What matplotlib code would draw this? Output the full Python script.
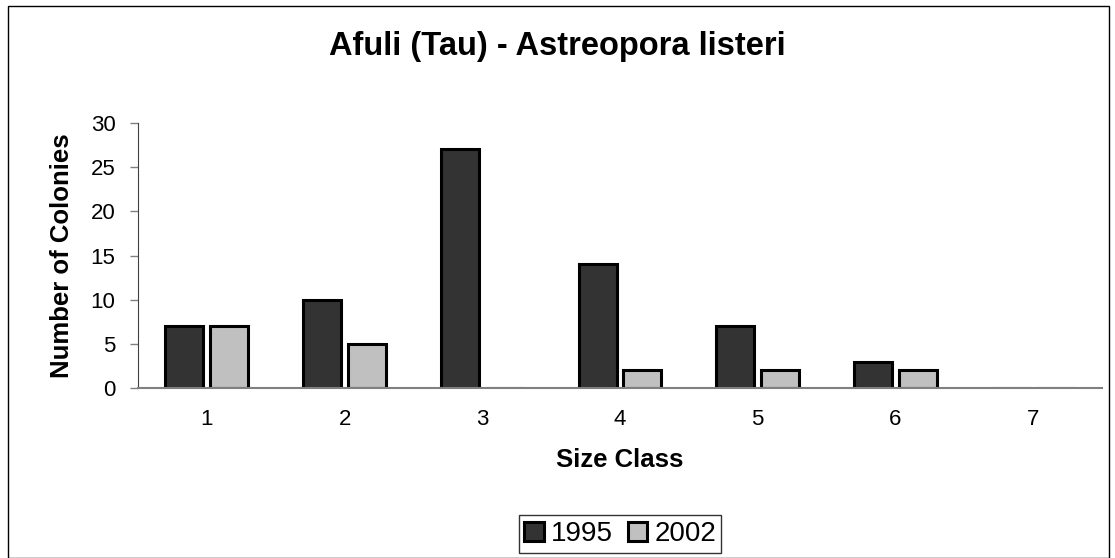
import matplotlib
matplotlib.use("Agg")
import matplotlib.pyplot as plt
from matplotlib.patches import Rectangle
import numpy as np

plt.rcParams['font.family'] = ['Liberation Sans', 'DejaVu Sans']

size_classes = ["1", "2", "3", "4", "5", "6", "7"]
colonies_1995 = [7, 10, 27, 14, 7, 3, 0]
colonies_2002 = [7, 5, 0, 2, 2, 2, 0]
series_labels = ["1995", "2002"]
y_ticks = [0, 5, 10, 15, 20, 25, 30]

W, H = 1115, 558
fig = plt.figure(figsize=(W / 100, H / 100), dpi=100)
ax = fig.add_axes([138 / W, 1 - 388 / H, 964 / W, 265 / H])

x = np.arange(len(size_classes))
w = 0.276
off = 0.163
ax.bar(x - off, colonies_1995, w, color="#333333", edgecolor="black", linewidth=2.2,
       label=series_labels[0])
ax.bar(x + off, colonies_2002, w, color="#c0c0c0", edgecolor="black", linewidth=2.2,
       label=series_labels[1])

ax.set_xlim(-0.5, len(size_classes) - 0.5)
ax.set_ylim(0, 30)
ax.set_yticks(y_ticks)
ax.set_xticks(x)
ax.set_xticklabels(size_classes)
ax.tick_params(axis="x", length=0, pad=15, labelsize=16)
ax.tick_params(axis="y", length=5.8, width=1, direction="out", pad=10.5, labelsize=16,
               color="#808080")
for s in ["top", "right"]:
    ax.spines[s].set_visible(False)
ax.spines["left"].set_color("#404040")
ax.spines["bottom"].set_color("#808080")
ax.spines["bottom"].set_linewidth(1.5)

ax.set_xlabel("Size Class", fontsize=18.5, fontweight="bold", labelpad=13)
ax.set_ylabel("Number of Colonies", fontsize=18.5, fontweight="bold", labelpad=12)
fig.text(0.5, 1 - 47 / H, "Afuli (Tau) - Astreopora listeri", ha="center", va="center",
         fontsize=23.5, fontweight="bold")

leg = fig.legend(loc="center", bbox_to_anchor=(620 / W, 1 - 534 / H), ncol=2,
                 fontsize=20, frameon=True, fancybox=False, edgecolor="black",
                 handlelength=0.7, handleheight=0.7, handletextpad=0.25,
                 columnspacing=0.55, borderpad=0.2, borderaxespad=0)
leg.get_frame().set_linewidth(1.0)

fig.patches.append(Rectangle((8 / W, 0), 1101 / W, 1 - 6 / H, transform=fig.transFigure,
                             fill=False, edgecolor="black", linewidth=1.0))

fig.savefig("out.png", dpi=100)
